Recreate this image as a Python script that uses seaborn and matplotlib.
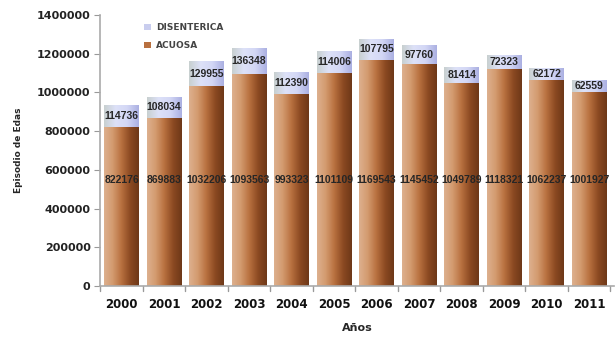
import numpy as np
import pandas as pd
import matplotlib
matplotlib.use("Agg")
import matplotlib.pyplot as plt
from matplotlib.colors import LinearSegmentedColormap
from matplotlib import font_manager
import seaborn as sns

years = ["2000", "2001", "2002", "2003", "2004", "2005", "2006", "2007", "2008", "2009", "2010", "2011"]
acuosa = [822176, 869883, 1032206, 1093563, 993323, 1101109, 1169543, 1145452, 1049789, 1118321, 1062237, 1001927]
disenterica = [114736, 108034, 129955, 136348, 112390, 114006, 107795, 97760, 81414, 72323, 62172, 62559]
yticks = [0, 200000, 400000, 600000, 800000, 1000000, 1200000, 1400000]

df = pd.DataFrame({"year": years, "acuosa": acuosa, "disenterica": disenterica})
df["total"] = df["acuosa"] + df["disenterica"]

sns.set_style("white")
plt.rcParams["font.family"] = ["DejaVu Sans"]

names = {f.name for f in font_manager.fontManager.ttflist}
narrow = "Liberation Sans Narrow" if "Liberation Sans Narrow" in names else "Liberation Sans"

fig = plt.figure(figsize=(6.15, 3.52), dpi=100)
ax = fig.add_axes([0.163, 0.1875, 0.835, 0.77])

sns.barplot(data=df, x="year", y="total", color="#C9CDEE", width=0.82, ax=ax,
            saturation=1, label="DISENTERICA")
sns.barplot(data=df, x="year", y="acuosa", color="#B8703F", width=0.82, ax=ax,
            saturation=1, label="ACUOSA")

n = len(years)
cm_dis = LinearSegmentedColormap.from_list("dis", ["#C8D0D0", "#DDE1F8", "#D3D7F5", "#ABB0E2"])
cm_acu = LinearSegmentedColormap.from_list("acu", ["#DDB08E", "#D39A6E", "#B8703F", "#8C4A22", "#6E3818"])
grad = np.linspace(0, 1, 64).reshape(1, -1)
patches = list(ax.patches)
for i, p in enumerate(patches):
    cmap = cm_dis if i < n else cm_acu
    x0, y0 = p.get_x(), p.get_y()
    w, h = p.get_width(), p.get_height()
    im = ax.imshow(grad, cmap=cmap, aspect="auto", extent=[x0, x0 + w, y0, y0 + h],
                   zorder=p.get_zorder() + 0.1 + (0.2 if i >= n else 0), interpolation="bilinear")
    im.set_clip_path(p)
    p.set_edgecolor("none")

ax.set_ylim(0, 1400000)
ax.set_xlim(-0.5, n - 0.42)
ax.set_yticks(yticks)
ax.set_yticklabels([str(v) for v in yticks], fontsize=8, fontweight="bold", color="#222222")
ax.set_xticks(np.arange(n))
ax.set_xticklabels(years, fontsize=8.5, fontweight="bold", color="#111111")
ax.tick_params(axis="x", length=0, pad=9)
ax.tick_params(axis="y", length=4, color="#999999", direction="out", left=True, pad=3)
for b in np.arange(n + 1) - 0.5:
    ax.plot([b, b], [0, -25000], color="#999999", lw=1, clip_on=False)

for s in ["top", "right"]:
    ax.spines[s].set_visible(False)
ax.spines["left"].set_color("#AAAAAA")
ax.spines["bottom"].set_color("#AAAAAA")
ax.spines["left"].set_linewidth(1.2)
ax.spines["bottom"].set_linewidth(1.2)

ax.set_xlabel("Años", fontsize=8, fontweight="bold", labelpad=8)
ax.set_ylabel("Episodio de Edas", fontsize=6.5, fontweight="bold", labelpad=10)

for i in range(n):
    a = df["acuosa"][i]
    d = df["disenterica"][i]
    ax.text(i, a + d / 2, f"{d}", ha="center", va="center", fontsize=7.5,
            fontweight="bold", zorder=5, family=[narrow, "DejaVu Sans"])
    ax.text(i, 0.39 * yticks[-1], f"{a}", ha="center", va="center", fontsize=7.5,
            fontweight="bold", zorder=5, family=[narrow, "DejaVu Sans"])

h, l = ax.get_legend_handles_labels()
leg = ax.legend(h, l, loc="upper left", bbox_to_anchor=(0.07, 1.0), frameon=False,
                fontsize=6.5, handlelength=0.7, handleheight=0.7, labelspacing=1.0,
                handletextpad=0.6)
for t in leg.get_texts():
    t.set_fontweight("bold")
    t.set_color("#444444")

fig.savefig("out.png", dpi=100)
